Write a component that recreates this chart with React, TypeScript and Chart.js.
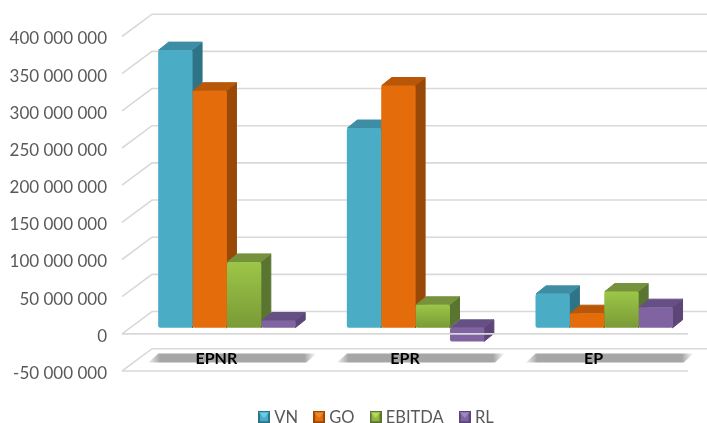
import React, { useEffect, useRef } from "react";
import { Chart, registerables } from "chart.js";

Chart.register(...registerables);

const categories = ["EPNR", "EPR", "EP"];
const seriesNames = ["VN", "GO", "EBITDA", "RL"];
const vnValues = [373600000, 268800000, 45700000];
const goValues = [319000000, 326000000, 19700000];
const ebitdaValues = [88700000, 31000000, 48800000];
const rlValues = [9800000, -18400000, 27800000];
const seriesValues = [vnValues, goValues, ebitdaValues, rlValues];

const frontColors = ["#4BACC6", "#E46C0A", "#8FB544", "#8064A2"];
const frontLight = ["#4BACC6", "#E46C0A", "#9CC648", "#8064A2"];
const frontDark = ["#4BACC6", "#E46C0A", "#7A9A36", "#8064A2"];
const sideColors = ["#2F7386", "#984807", "#5A7530", "#5C4678"];
const topColors = ["#3D8EA5", "#B85708", "#76923C", "#654F85"];
const markerLight = ["#63CFEA", "#F08A2C", "#B5DA5A", "#A088C0"];

const GRID = "#D9D9D9";
const TEXT = "#595959";
const FONT = "Lato, 'Open Sans', sans-serif";

// pseudo-3D geometry
const WALL_X = 30;
const WALL_Y = -22.3;
const BAR_SHIFT_X = 10.6;
const BAR_SHIFT_Y = -6;
const DEPTH_X = 10;
const DEPTH_Y = -8;

function poly(ctx: CanvasRenderingContext2D, pts: number[][], fill: string) {
  ctx.beginPath();
  pts.forEach((p, i) => (i ? ctx.lineTo(p[0], p[1]) : ctx.moveTo(p[0], p[1])));
  ctx.closePath();
  ctx.fillStyle = fill;
  ctx.fill();
  ctx.strokeStyle = fill;
  ctx.lineWidth = 1;
  ctx.lineJoin = "round";
  ctx.stroke();
}

const scene3d = {
  id: "scene3d",
  beforeDraw(chart: any) {
    const { ctx, chartArea } = chart;
    const y = chart.scales.y;
    const x = chart.scales.x;
    ctx.save();
    ctx.strokeStyle = GRID;
    ctx.lineWidth = 1.6;
    y.ticks.forEach((t: any) => {
      const py = y.getPixelForValue(t.value);
      ctx.beginPath();
      ctx.moveTo(chartArea.left, py);
      ctx.lineTo(chartArea.left + WALL_X, py + WALL_Y);
      ctx.lineTo(chartArea.right + WALL_X, py + WALL_Y);
      ctx.stroke();
    });
    ctx.restore();
    // blurred shadow band behind each category label
    categories.forEach((_c, i) => {
      const c = x.getPixelForValue(i);
      const top = chartArea.bottom - 17.5;
      const bot = chartArea.bottom - 8.5;
      const g = ctx.createLinearGradient(c - 70, 0, c + 100, 0);
      g.addColorStop(0, "rgba(166,166,166,0)");
      g.addColorStop(0.08, "rgba(166,166,166,1)");
      g.addColorStop(0.93, "rgba(166,166,166,1)");
      g.addColorStop(1, "rgba(166,166,166,0)");
      ctx.save();
      ctx.beginPath();
      ctx.moveTo(c - 58, top);
      ctx.lineTo(c + 100, top);
      ctx.lineTo(c + 90, bot);
      ctx.lineTo(c - 68, bot);
      ctx.closePath();
      ctx.fillStyle = g;
      ctx.fill();
      ctx.restore();
    });
    // place the legend where the reference has it
    const legend = chart.legend;
    legend.left = 243;
    legend.right = 707;
    legend.top = 390;
    legend.bottom = 443;
  },
  beforeDatasetsDraw(chart: any) {
    const { ctx } = chart;
    ctx.save();
    ctx.translate(BAR_SHIFT_X, BAR_SHIFT_Y);
    categories.forEach((_c, i) => {
      seriesNames.forEach((_s, d) => {
        const el = chart.getDatasetMeta(d).data[i];
        const l = el.x - el.width / 2 + 0.5;
        const r = el.x + el.width / 2 - 0.5;
        const t = Math.min(el.y, el.base);
        const b = Math.max(el.y, el.base);
        poly(ctx, [[r, t], [r + DEPTH_X, t + DEPTH_Y], [r + DEPTH_X, b + DEPTH_Y], [r, b]], sideColors[d]);
        poly(ctx, [[l, t], [l + DEPTH_X, t + DEPTH_Y], [r + DEPTH_X, t + DEPTH_Y], [r, t]], topColors[d]);
      });
    });
  },
  afterDatasetsDraw(chart: any) {
    const { ctx, chartArea } = chart;
    ctx.restore();
    const y = chart.scales.y;
    ctx.save();
    ctx.strokeStyle = GRID;
    ctx.lineWidth = 1.6;
    [0, -50000000].forEach((v) => {
      const py = y.getPixelForValue(v);
      ctx.beginPath();
      ctx.moveTo(chartArea.left, py);
      ctx.lineTo(chartArea.right, py);
      ctx.stroke();
    });
    ctx.restore();
  },
};

function makeMarker(i: number) {
  const c = document.createElement("canvas");
  c.width = 12;
  c.height = 12;
  const g = c.getContext("2d")!;
  g.fillStyle = sideColors[i];
  g.fillRect(0, 0, 12, 12);
  g.fillStyle = frontColors[i];
  g.fillRect(2, 1, 8, 9);
  g.beginPath();
  g.moveTo(1, 1);
  g.lineTo(11, 1);
  g.lineTo(6, 7);
  g.closePath();
  g.fillStyle = markerLight[i];
  g.fill();
  return c;
}

export default function App() {
  const ref = useRef<HTMLCanvasElement | null>(null);
  useEffect(() => {
    const chart = new Chart(ref.current!, {
      type: "bar",
      data: {
        labels: categories,
        datasets: seriesNames.map((name, i) => ({
          label: name,
          data: seriesValues[i],
          borderWidth: 0,
          borderRadius: 2,
          borderSkipped: false,
          clip: false,
          barPercentage: 1,
          categoryPercentage: 0.729,
          backgroundColor: (ctx: any) => {
            const scale = ctx.chart.scales?.y;
            if (!scale || ctx.raw === undefined) return frontColors[i];
            const y0 = scale.getPixelForValue(ctx.raw);
            const y1 = scale.getPixelForValue(0);
            if (!Number.isFinite(y0) || !Number.isFinite(y1)) return frontColors[i];
            const g = ctx.chart.ctx.createLinearGradient(0, y0, 0, y1);
            g.addColorStop(0, frontLight[i]);
            g.addColorStop(1, frontDark[i]);
            return g;
          },
        })),
      },
      options: {
        responsive: false,
        animation: false,
        layout: { padding: { top: 36.5, right: 19, left: 0, bottom: 6.5 } },
        scales: {
          x: {
            grid: { display: false, drawTicks: false },
            border: { display: false },
            afterFit: (s: any) => {
              s.height = 0;
            },
            ticks: {
              mirror: true,
              padding: 3,
              autoSkip: false,
              maxRotation: 0,
              color: "#000000",
              font: { family: FONT, size: 16, weight: "bold" },
            },
          },
          y: {
            min: -50000000,
            max: 400000000,
            grid: { display: false, drawTicks: false },
            border: { display: false },
            afterFit: (s: any) => {
              s.width = 122;
            },
            ticks: {
              stepSize: 50000000,
              padding: 15,
              labelOffset: 2.5,
              autoSkip: false,
              color: TEXT,
              font: { family: FONT, size: 17 },
              callback: (v: any) => String(v).replace(/\B(?=(\d{3})+(?!\d))/g, " "),
            },
          },
        },
        plugins: {
          tooltip: { enabled: false },
          legend: {
            position: "bottom",
            align: "start",
            labels: {
              padding: 19,
              usePointStyle: true,
              pointStyleWidth: 4,
              color: TEXT,
              font: { family: FONT, size: 16.5 },
              generateLabels: () =>
                seriesNames.map((name, i) => ({
                  text: name,
                  datasetIndex: i,
                  pointStyle: makeMarker(i),
                  fontColor: TEXT,
                  lineWidth: 0,
                  strokeStyle: "transparent",
                  fillStyle: frontColors[i],
                })),
            },
          },
        },
      },
      plugins: [scene3d],
    } as any);
    return () => chart.destroy();
  }, []);
  return (
    <div style={{ position: "absolute", left: 0, top: 0, width: 707, height: 423, background: "#fff", overflow: "hidden" }}>
      <canvas ref={ref} width={707} height={423} style={{ display: "block" }} />
    </div>
  );
}
